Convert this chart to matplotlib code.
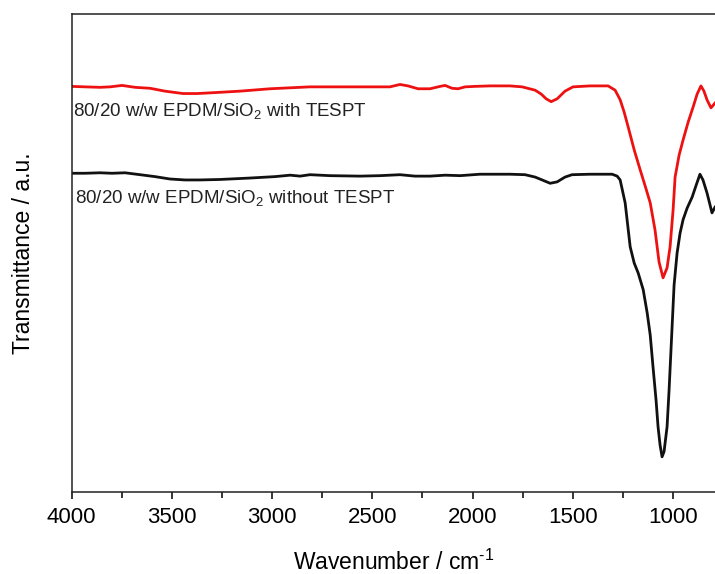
import matplotlib
matplotlib.use("Agg")
import matplotlib.pyplot as plt
from matplotlib.ticker import MultipleLocator

plt.rcParams['font.family'] = ['Liberation Sans', 'DejaVu Sans']
plt.rcParams['mathtext.fontset'] = 'custom'
plt.rcParams['mathtext.rm'] = 'Liberation Sans'
plt.rcParams['mathtext.it'] = 'Liberation Sans'

# --- data (wavenumber / cm-1, transmittance / a.u.) ---
red_wn = [4000, 3933, 3858, 3808, 3748, 3683, 3608, 3534, 3444, 3374, 3284, 3160,
          3010, 2811, 2661, 2412, 2362, 2322, 2272, 2212, 2162, 2137, 2102, 2072,
          2037, 1988, 1913, 1813, 1753, 1688, 1658, 1633, 1608, 1578, 1539, 1499,
          1414, 1324, 1289, 1264, 1244, 1224, 1194, 1164, 1139, 1114, 1090, 1070,
          1050, 1030, 1015, 1000, 990, 970, 950, 925, 900, 880, 861, 846, 831, 811, 791]
red_t = [84.9, 84.8, 84.7, 84.8, 85.1, 84.7, 84.5, 83.9, 83.4, 83.4, 83.6, 83.9,
         84.4, 84.8, 84.8, 84.8, 85.3, 85.0, 84.4, 84.4, 84.9, 85.1, 84.5, 84.4,
         84.8, 84.9, 85.0, 85.0, 84.8, 84.1, 83.3, 82.3, 81.7, 82.3, 83.9, 84.8,
         85.0, 85.0, 84.1, 82.1, 79.5, 76.4, 71.6, 67.4, 64.0, 60.5, 54.8, 48.1,
         44.8, 46.9, 51.3, 59.0, 65.9, 70.5, 73.7, 77.4, 80.6, 83.3, 85.0, 83.9, 82.1, 80.4, 81.4]

black_wn = [4000, 3933, 3858, 3798, 3733, 3658, 3584, 3509, 3434, 3359, 3259, 3110,
            2985, 2910, 2860, 2811, 2711, 2561, 2461, 2362, 2287, 2212, 2137, 2062,
            1963, 1813, 1738, 1688, 1653, 1613, 1578, 1539, 1504, 1414, 1304, 1279,
            1264, 1239, 1214, 1194, 1174, 1149, 1129, 1114, 1100, 1085, 1075, 1065,
            1055, 1045, 1030, 1020, 1005, 995, 980, 965, 950, 930, 905, 885, 866,
            851, 831, 816, 806, 791]
black_t = [66.7, 66.7, 66.8, 66.7, 66.8, 66.4, 66.0, 65.5, 65.3, 65.3, 65.4, 65.7,
           66.0, 66.3, 66.1, 66.4, 66.2, 66.1, 66.2, 66.4, 66.1, 66.1, 66.3, 66.2,
           66.5, 66.5, 66.4, 65.9, 65.3, 64.6, 64.9, 65.9, 66.4, 66.5, 66.5, 66.1,
           65.3, 60.5, 51.3, 47.9, 45.8, 42.3, 37.4, 32.8, 26.1, 19.2, 13.6, 9.8,
           7.3, 8.4, 13.6, 21.3, 34.5, 43.3, 50.0, 54.2, 57.0, 59.4, 61.7, 64.2, 66.5,
           65.3, 62.6, 60.1, 58.4, 59.6]

label_red = "80/20 w/w EPDM/SiO$_2$ with TESPT"
label_black = "80/20 w/w EPDM/SiO$_2$ without TESPT"

fig = plt.figure(figsize=(7.15, 5.74), dpi=100)
ax = fig.add_axes([0.1, 0.1434, 0.9, 0.8317])

ax.plot(red_wn, red_t, color='#ee1111', lw=2.0)
ax.plot(black_wn, black_t, color='#111111', lw=2.0)

ax.set_xlim(4000, 791)
ax.set_ylim(0, 100)

ax.text(3993, 78.8, label_red, fontsize=13.5, color='#222222', ha='left', va='baseline')
ax.text(3983, 60.5, label_black, fontsize=13.5, color='#222222', ha='left', va='baseline')

ax.xaxis.set_major_locator(MultipleLocator(500))
ax.xaxis.set_minor_locator(MultipleLocator(250))
ax.tick_params(axis='x', which='major', direction='out', length=5, width=1.1,
               labelsize=16, pad=6, top=False)
ax.tick_params(axis='x', which='minor', direction='out', length=4, width=1.1, top=False)
ax.set_yticks([])
ax.spines['right'].set_visible(False)
for s in ['left', 'top', 'bottom']:
    ax.spines[s].set_linewidth(1.1)
    ax.spines[s].set_color('#222222')

ax.set_xlabel("Wavenumber / cm$^{\\text{-1}}$", fontsize=16.5, labelpad=16)
ax.set_ylabel("Transmittance / a.u.", fontsize=16.5, labelpad=26)

fig.savefig("out.png", dpi=100)
